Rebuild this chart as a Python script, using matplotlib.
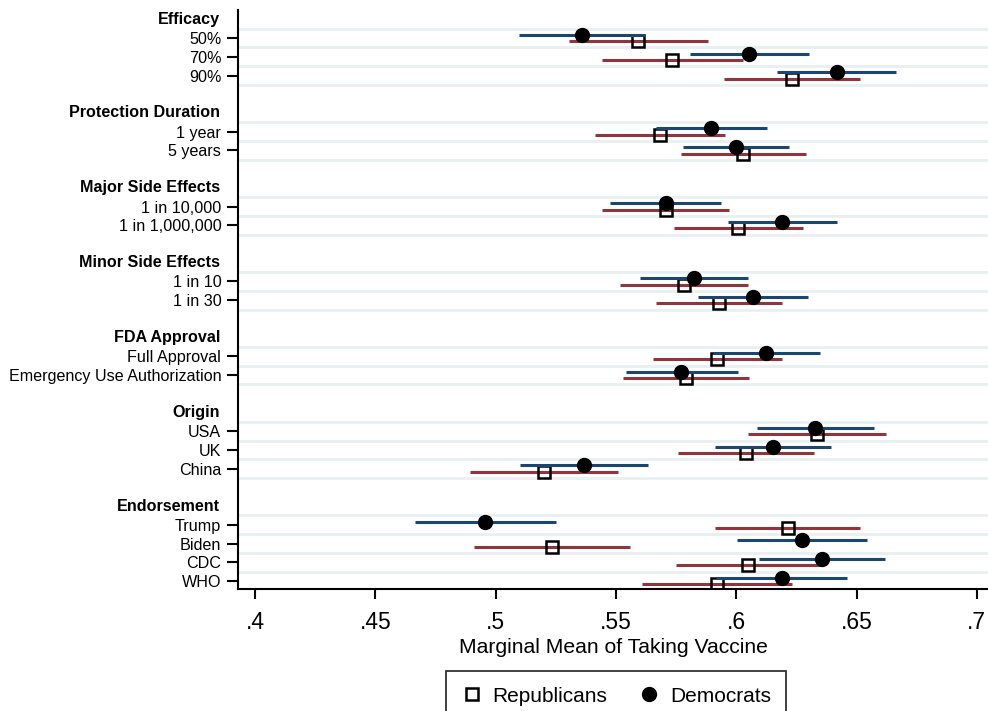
import matplotlib
matplotlib.use("Agg")
import matplotlib.pyplot as plt
from matplotlib.transforms import blended_transform_factory
from matplotlib.lines import Line2D

plt.rcParams['font.family'] = ['Liberation Sans', 'DejaVu Sans']

# ---- data ----
groups = ["Efficacy", "Protection Duration", "Major Side Effects", "Minor Side Effects",
          "FDA Approval", "Origin", "Endorsement"]
group_levels = [
    ["50%", "70%", "90%"],
    ["1 year", "5 years"],
    ["1 in 10,000", "1 in 1,000,000"],
    ["1 in 10", "1 in 30"],
    ["Full Approval", "Emergency Use Authorization"],
    ["USA", "UK", "China"],
    ["Trump", "Biden", "CDC", "WHO"],
]

dem_est = [0.536, 0.6053, 0.6418, 0.5895, 0.5998, 0.5707, 0.6192, 0.5823, 0.6068,
           0.6124, 0.5772, 0.6329, 0.6151, 0.5369, 0.4957, 0.6272, 0.6358, 0.6190]
dem_lo = [0.5099, 0.5807, 0.6170, 0.5665, 0.5779, 0.5475, 0.5967, 0.5599, 0.5843,
          0.5904, 0.5541, 0.6085, 0.5911, 0.5101, 0.4664, 0.6003, 0.6093, 0.5917]
dem_hi = [0.5621, 0.6303, 0.6665, 0.6126, 0.6219, 0.5938, 0.6418, 0.6051, 0.6297,
          0.6347, 0.6006, 0.6573, 0.6394, 0.5635, 0.5252, 0.6542, 0.6620, 0.6462]

rep_est = [0.5593, 0.5735, 0.6232, 0.5682, 0.6029, 0.5707, 0.6009, 0.5782, 0.5929,
           0.5920, 0.5791, 0.6336, 0.6039, 0.5200, 0.6217, 0.5234, 0.6049, 0.5920]
rep_lo = [0.5306, 0.5442, 0.5951, 0.5412, 0.5771, 0.5442, 0.5741, 0.5517, 0.5667,
          0.5654, 0.5528, 0.6049, 0.5759, 0.4895, 0.5913, 0.4910, 0.5750, 0.5610]
rep_hi = [0.5881, 0.6029, 0.6516, 0.5953, 0.6289, 0.5971, 0.6276, 0.6048, 0.6192,
          0.6189, 0.6054, 0.6624, 0.6322, 0.5507, 0.6516, 0.5557, 0.6351, 0.6233]

xticks = [0.4, 0.45, 0.5, 0.55, 0.6, 0.65, 0.7]
xticklabels = [".4", ".45", ".5", ".55", ".6", ".65", ".7"]

# ---- layout of rows ----
header_pos = []
level_pos = []
level_labels = []
row = 0
for g, levels in zip(groups, group_levels):
    header_pos.append(row)
    row += 1
    for lv in levels:
        level_pos.append(row)
        level_labels.append(lv)
        row += 1
    row += 1

navy = (26/255, 71/255, 111/255)
maroon = (144/255, 53/255, 59/255)
gridc = "#e9f0f2"

fig = plt.figure(figsize=(9.88, 7.11), dpi=100)
ax = fig.add_axes([238/988, 1 - 589/711, 1 - 238/988, (589 - 10)/711])

off = 0.17
# gridlines around each level row
for p in level_pos:
    for gy in (p - 0.5, p + 0.5):
        ax.axhline(gy, color=gridc, lw=2.0, zorder=0)

ypos_rep = [p + off for p in level_pos]
ypos_dem = [p - off for p in level_pos]

ax.hlines(ypos_rep, rep_lo, rep_hi, color=maroon, lw=2.2, zorder=2)
ax.plot(rep_est, ypos_rep, linestyle='none', marker='s', markersize=8.5,
        markerfacecolor='none', markeredgecolor='black', markeredgewidth=1.8, zorder=3)
ax.hlines(ypos_dem, dem_lo, dem_hi, color=navy, lw=2.2, zorder=4)
ax.plot(dem_est, ypos_dem, linestyle='none', marker='o', markersize=10,
        markerfacecolor='black', markeredgecolor='black', zorder=5)

ax.set_xlim(0.4 - 17/2406, 0.4 + 733/2406)
ax.set_ylim(30.43, -0.5)

ax.set_yticks(level_pos)
ax.set_yticklabels(level_labels, fontsize=11.6)
ax.tick_params(axis='y', length=8, width=1.5, pad=4, color='black')
ax.set_xticks(xticks)
ax.set_xticklabels(xticklabels, fontsize=16.5)
ax.tick_params(axis='x', length=7, width=1.5, pad=9, color='black')

trans = blended_transform_factory(ax.transAxes, ax.transData)
for g, p in zip(groups, header_pos):
    ax.text(-(238 - 220) / 750, p, g, transform=trans, ha='right', va='center',
            fontsize=11.6, fontweight='bold')

for s in ['top', 'right']:
    ax.spines[s].set_visible(False)
for s in ['left', 'bottom']:
    ax.spines[s].set_linewidth(1.5)

ax.set_xlabel("Marginal Mean of Taking Vaccine", fontsize=15.2, labelpad=3)

handles = [Line2D([], [], linestyle='none', marker='s', markersize=8, markerfacecolor='none',
                  markeredgecolor='black', markeredgewidth=1.8),
           Line2D([], [], linestyle='none', marker='o', markersize=10, markerfacecolor='black',
                  markeredgecolor='black')]
leg = fig.legend(handles, ["Republicans", "Democrats"], loc='upper center',
                 bbox_to_anchor=(616/988, 1 - 671/711), ncol=2, fontsize=15,
                 frameon=True, fancybox=False, edgecolor='black', handletextpad=0.5,
                 columnspacing=1.5, borderpad=0.75, handlelength=1.0, borderaxespad=0)
leg.get_frame().set_linewidth(1.3)

fig.savefig("out.png", dpi=100)
